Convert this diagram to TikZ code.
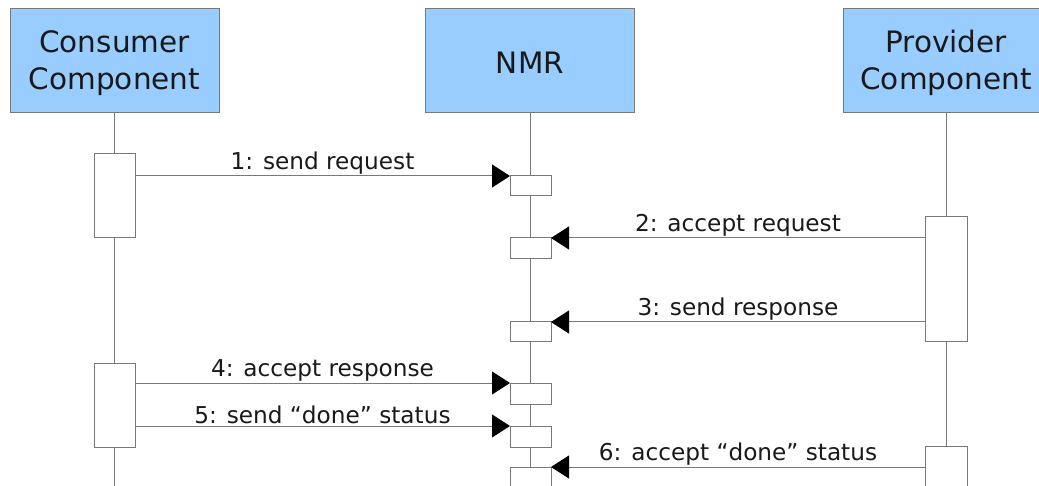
\documentclass[tikz,border=0pt]{standalone}
\usepackage{fontspec}
\setmainfont{DejaVu Sans}
\usetikzlibrary{arrows.meta}
\definecolor{hdrblue}{RGB}{153,204,255}
\definecolor{linegray}{RGB}{120,120,120}
\begin{document}
\begin{tikzpicture}[x=1pt,y=-1pt,
  hdr/.style={draw=linegray,line width=1pt,fill=hdrblue,minimum width=209pt,minimum height=104pt,
    inner sep=0pt,outer sep=0pt,align=center,font=\fontsize{29.5}{36.5}\selectfont,text=black!90},
  actbox/.style={draw=linegray,line width=1pt,fill=white,minimum width=41pt,inner sep=0pt,outer sep=0pt},
  life/.style={draw=linegray,line width=1pt},
  msg/.style={draw=linegray,line width=1pt,-{Triangle[length=18pt,width=23pt,fill=black,color=black]}},
  lbl/.style={midway,above,inner sep=1.5pt,font=\fontsize{23.2}{27}\selectfont,text=black!90}]
\useasboundingbox (0,0) rectangle (1039,486);
\clip (0,0) rectangle (1039,486);
% headers
\node[hdr] (cons) at (114.5,61) {};
\node[hdr] (nmr) at (530,61) {};
\node[hdr] (prov) at (947.5,61) {};
\node[align=center,font=\fontsize{29.5}{36.5}\selectfont,text=black!90] (constext) at (114.5,63) {Consumer\\Component};
\node[font=\fontsize{29.5}{36.5}\selectfont,text=black!90] (nmrtext) at (530,63) {NMR};
\node[align=center,font=\fontsize{29.5}{36.5}\selectfont,text=black!90] (provtext) at (946,63) {Provider\\Component};
% lifeline ends
\coordinate (consend) at (cons.south |- 0,490);
\coordinate (nmrend) at (nmr.south |- 0,490);
\coordinate (provend) at (946,490);
\draw[life] (cons.south) -- (consend);
\draw[life] (nmr.south) -- (nmrend);
\draw[life] (provend |- prov.south) -- (provend);
% activation boxes
\node[actbox,minimum height=84pt] (c1) at (114.5,196) {};
\node[actbox,minimum height=84pt] (c2) at (114.5,405) {};
\node[actbox,minimum height=20pt] (n1) at (530.5,186) {};
\node[actbox,minimum height=21pt] (n2) at (530.5,248.5) {};
\node[actbox,minimum height=20pt] (n3) at (530.5,332) {};
\node[actbox,minimum height=21pt] (n4) at (530.5,393.5) {};
\node[actbox,minimum height=21pt] (n5) at (530.5,436.5) {};
\node[actbox,minimum height=40pt] (n6) at (530.5,487) {};
\node[actbox,minimum width=42pt,minimum height=125pt] (p1) at (946,279.5) {};
\node[actbox,minimum width=42pt,minimum height=60pt] (p2) at (946,476) {};
% messages
\draw[msg] (c1.east |- n1.north west) -- node[lbl]{1: send request} (n1.north west);
\draw[msg] (p1.west |- n2.north east) -- node[lbl]{2: accept request} (n2.north east);
\draw[msg] (p1.west |- n3.north east) -- node[lbl]{3: send response} (n3.north east);
\draw[msg] (c2.east |- n4.north west) -- node[lbl]{4: accept response} (n4.north west);
\draw[msg] (c2.east |- n5.north west) -- node[lbl]{5: send “done” status} (n5.north west);
\draw[msg] (p2.west |- n6.north east) -- node[lbl]{6: accept “done” status} (n6.north east);
\end{tikzpicture}
\end{document}
